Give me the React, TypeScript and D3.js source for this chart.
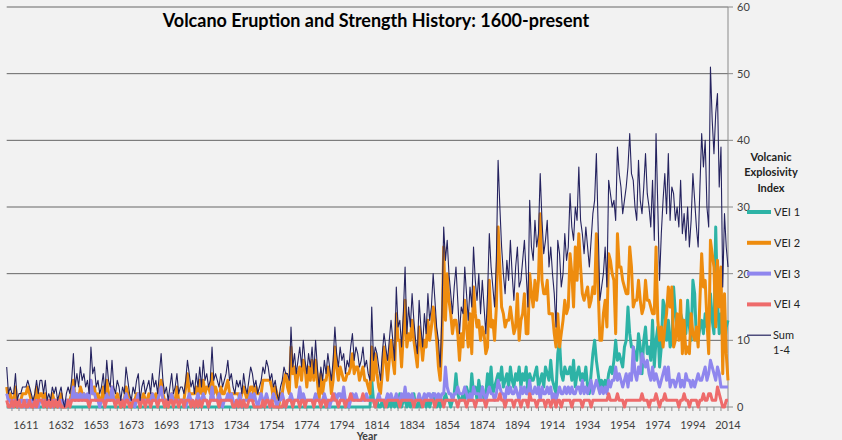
import React from 'react';
import * as d3 from 'd3';

// Categories: the sheet skips a few years before 1754
const missingYears = [1621, 1642, 1724];
const years = d3.range(1600, 2015).filter(y => !missingYears.includes(y));
const tickYears = [1611, 1632, 1653, 1673, 1693, 1713, 1734, 1754, 1774, 1794, 1814,
  1834, 1854, 1874, 1894, 1914, 1934, 1954, 1974, 1994, 2014];
const yTicks = [0, 10, 20, 30, 40, 50, 60];

// eruptions per year, one row = 20 categories
const vei1 = [
  0,0,0,0,0,0,0,0,0,0,0,0,0,0,0,0,0,0,0,0,
  0,0,0,0,0,0,0,0,0,0,0,0,0,0,0,0,0,0,0,0,
  0,0,0,0,0,0,0,0,0,0,0,0,0,0,0,0,0,0,0,0,
  0,0,0,0,0,0,0,0,0,0,0,0,0,0,0,0,0,0,0,0,
  0,0,0,0,0,0,0,0,0,0,0,0,0,0,0,0,0,0,0,0,
  0,0,0,0,0,0,0,0,0,0,0,0,0,0,0,0,0,0,0,0,
  0,0,0,0,0,0,0,0,0,0,0,0,0,0,0,0,0,0,0,0,
  0,0,0,0,0,0,0,0,0,0,0,0,0,0,0,0,0,0,0,0,
  0,0,0,0,0,0,0,0,0,0,0,0,0,0,0,0,0,0,0,0,
  0,0,0,0,0,0,0,0,0,0,0,0,0,0,0,0,0,0,0,0,
  0,0,0,0,0,0,0,0,4,1,0,1,0,0,1,0,1,0,1,0,
  1,0,1,0,2,0,1,1,0,1,0,1,2,0,0,1,0,1,1,0,
  1,0,1,2,1,0,1,0,1,1,2,1,1,0,1,2,5,2,1,1,
  2,1,3,2,1,5,2,3,1,4,2,3,1,2,5,3,6,2,3,4,
  5,4,6,3,4,5,3,6,4,3,5,4,6,3,5,4,6,2,5,4,
  4,5,6,3,4,5,3,6,5,4,7,4,3,2,8,10,5,4,6,5,
  5,6,4,7,3,5,6,4,5,4,6,3,2,5,8,10,7,5,3,4,
  3,4,3,5,6,5,7,10,7,8,7,6,9,10,15,11,9,9,8,7,
  11,9,5,10,12,8,9,7,13,6,10,12,6,9,16,15,10,13,9,10,
  18,14,11,12,14,13,11,11,16,12,10,19,17,10,10,12,13,11,14,12,
  12,17,13,11,27,16,11,14,10,9,12,13,
];

const vei2 = [
  3,1,2,1,1,3,0,1,1,2,2,2,3,2,1,0,1,3,1,2,
  2,1,2,0,1,0,2,1,1,0,1,2,0,0,1,1,1,2,4,1,
  2,1,3,2,2,1,1,1,4,2,3,1,2,1,1,3,1,4,2,1,
  3,1,1,2,1,0,1,1,3,2,1,0,1,1,2,2,0,1,2,1,
  1,2,1,2,1,2,1,2,4,2,1,1,0,1,2,1,1,3,1,1,
  1,1,3,5,2,2,2,2,3,1,4,2,4,2,3,3,2,5,2,3,
  2,1,3,2,2,3,4,2,2,2,2,2,2,1,2,3,2,1,2,3,
  3,1,3,2,2,2,4,4,4,4,4,3,1,3,2,0,2,2,4,5,
  3,2,9,5,6,3,5,6,4,7,6,3,6,4,7,4,7,4,1,5,
  2,4,4,6,5,2,4,9,6,4,6,5,4,4,5,5,6,8,5,6,
  6,4,5,6,4,4,3,2,9,4,8,5,3,2,5,9,7,4,7,10,
  7,5,14,10,10,6,11,16,9,11,10,13,10,8,6,12,10,7,10,9,
  13,10,12,15,13,10,6,4,10,24,13,20,16,14,11,13,13,11,7,11,
  9,16,12,9,14,8,18,14,12,13,10,12,11,8,9,19,12,13,10,15,
  27,21,15,14,12,13,13,15,13,11,12,17,10,13,14,17,11,11,20,17,
  15,19,16,19,29,19,17,17,19,14,14,14,11,9,14,9,11,13,16,14,
  15,23,20,15,24,19,26,21,17,16,17,18,15,16,18,17,26,18,10,10,
  14,16,12,23,22,20,19,11,26,21,21,19,18,17,17,24,21,15,16,16,
  19,16,14,15,19,16,16,15,14,14,24,13,10,12,9,12,14,18,15,18,
  9,10,14,10,16,8,13,8,9,8,14,11,10,12,9,16,23,18,19,13,
  8,25,23,21,12,22,15,21,5,17,8,4,
];

const vei3 = [
  2,1,1,0,1,1,1,0,1,1,0,1,1,0,1,1,0,1,0,1,
  1,1,1,1,0,1,0,1,1,1,0,1,1,0,1,1,1,1,3,1,
  2,1,2,1,2,1,2,1,4,2,2,1,1,0,1,1,1,2,1,1,
  3,1,1,1,1,1,1,1,2,1,1,1,1,0,1,2,1,1,1,1,
  1,1,1,2,1,1,1,2,3,1,1,1,1,1,2,1,1,1,1,1,
  1,1,0,1,2,1,1,0,1,2,1,1,2,1,1,0,1,3,1,1,
  1,2,1,0,1,1,2,1,2,1,0,1,1,2,0,1,1,1,1,2,
  1,2,1,0,1,2,1,1,2,1,0,1,2,1,0,1,1,2,1,0,
  1,1,2,1,1,1,1,3,1,2,1,1,1,1,1,1,2,1,1,1,
  1,2,1,1,0,1,1,2,1,2,2,1,3,1,1,0,1,2,1,2,
  1,1,1,1,1,2,1,1,1,1,1,1,2,1,1,1,1,2,1,2,
  1,1,2,1,1,2,1,3,1,2,1,2,1,1,1,2,1,1,2,1,
  2,2,1,2,2,1,2,1,2,2,6,3,2,2,1,2,2,3,2,2,
  2,3,2,1,2,1,3,2,2,2,1,3,2,1,2,3,2,2,1,2,
  4,3,2,2,1,3,2,3,2,2,3,2,1,3,2,3,2,2,4,2,
  2,3,2,3,1,3,2,2,3,2,3,1,2,1,2,3,2,2,3,2,
  3,2,3,2,2,3,3,2,4,2,3,2,3,4,2,3,4,3,2,3,
  2,3,2,4,3,4,4,6,4,5,4,3,4,5,3,5,4,9,5,4,
  6,5,8,7,6,7,5,4,6,4,5,4,3,4,5,6,4,6,3,4,
  4,3,4,5,3,4,3,5,4,4,3,4,3,4,5,4,4,5,6,4,
  5,7,6,5,4,6,5,3,3,3,3,3,
];

const vei4 = [
  1,0,0,1,0,1,0,1,0,0,1,0,0,1,0,0,1,0,1,1,
  1,0,1,0,1,0,1,0,1,0,1,0,0,0,0,1,0,1,1,1,
  1,1,1,1,1,1,1,0,1,1,1,1,1,1,1,1,0,1,1,1,
  1,1,0,1,1,0,1,0,1,1,0,0,1,1,1,1,0,1,1,0,
  1,1,0,1,1,1,0,1,1,1,0,1,0,1,1,0,1,1,0,1,
  1,0,1,1,1,0,1,0,1,0,1,0,1,1,1,0,1,1,1,1,
  1,0,1,1,1,1,1,1,1,0,0,1,0,1,0,1,0,0,1,1,
  1,0,0,0,0,0,1,0,1,1,0,1,0,0,0,0,0,0,1,0,
  1,1,1,0,1,1,1,0,1,1,0,1,1,1,1,0,1,1,1,0,
  1,1,0,1,1,1,2,1,1,0,1,1,1,0,1,1,2,1,1,1,
  1,1,1,2,1,1,1,1,1,1,0,1,1,1,1,1,0,1,1,1,
  1,1,1,1,0,1,1,1,1,1,1,1,0,1,1,1,1,0,1,1,
  1,1,1,1,0,1,1,1,1,0,1,1,1,1,1,1,1,0,1,1,
  1,1,0,1,1,1,1,0,1,1,1,1,1,0,1,1,1,1,1,1,
  1,2,1,1,0,1,1,1,1,0,1,1,1,0,1,1,1,0,2,1,
  1,1,0,1,1,1,1,0,1,1,0,1,1,0,1,1,0,1,1,1,
  1,1,0,1,1,1,1,1,0,1,1,1,1,0,1,1,1,1,1,1,
  1,1,1,2,1,1,1,1,2,1,1,1,0,1,1,1,1,1,1,1,
  1,1,2,1,1,1,0,1,1,1,2,1,0,1,1,2,1,1,1,1,
  1,1,1,0,1,1,2,1,1,0,1,1,1,1,0,1,1,2,1,1,
  2,2,1,1,1,3,2,1,0,0,1,1,
];

// Sum 1-4 is the total of the four classes
const sum14 = vei1.map((v, i) => v + vei2[i] + vei3[i] + vei4[i]);

const series = [
  { name: 'VEI 1', values: vei1, color: '#2db3a6', width: 3 },
  { name: 'VEI 2', values: vei2, color: '#ee8c0e', width: 3 },
  { name: 'VEI 3', values: vei3, color: '#8f86ee', width: 3 },
  { name: 'VEI 4', values: vei4, color: '#ee6b6b', width: 3 },
  { name: 'Sum', values: sum14, color: '#25235f', width: 1.1 },
];

const W = 842;
const H = 440;
const font = "Lato, 'Open Sans', sans-serif";

const App: React.FC = () => {
  const x = d3.scaleLinear().domain([0, years.length - 1]).range([6.7, 728]);
  const y = d3.scaleLinear().domain([0, 60]).range([407, 7]);

  const line = d3
    .line<number>()
    .x((_, i) => x(i))
    .y(d => y(d));

  const xTicks = d3.range(3, years.length, 4);
  const [x0, x1] = x.range();

  return (
    <svg
      width={W}
      height={H}
      style={{ position: 'absolute', left: 0, top: 0, background: '#f2f2f2' }}
      fontFamily={font}
    >
      {/* gridlines */}
      {yTicks.filter(t => t > 0).map(t => (
        <line key={t} x1={x0} x2={x1} y1={y(t)} y2={y(t)} stroke="#666" strokeWidth={1} />
      ))}

      {/* category axis */}
      <line x1={x0} x2={x1} y1={y(0)} y2={y(0)} stroke="#8a8a8a" />
      {xTicks.map(i => (
        <line key={i} x1={x(i)} x2={x(i)} y1={y(0)} y2={y(0) + 4} stroke="#8a8a8a" />
      ))}
      {tickYears.map(yr => (
        <text key={yr} x={x(years.indexOf(yr))} y={429} textAnchor="middle" fontSize={11} fill="#404040">
          {yr}
        </text>
      ))}
      <text x={367} y={439.5} textAnchor="middle" fontSize={10.5} fontWeight="bold" fill="#404040">
        Year
      </text>

      {/* value axis on the right */}
      <line x1={x1} x2={x1} y1={y(60)} y2={y(0)} stroke="#8a8a8a" />
      {yTicks.map(t => (
        <g key={t}>
          <line x1={x1} x2={x1 + 5} y1={y(t)} y2={y(t)} stroke="#8a8a8a" />
          <text x={x1 + 9} y={y(t) + 4} fontSize={11} fill="#404040">{t}</text>
        </g>
      ))}

      {/* series */}
      {series.map(s => (
        <path
          key={s.name}
          d={line(s.values) ?? ''}
          fill="none"
          stroke={s.color}
          strokeWidth={s.width}
          strokeLinejoin="round"
        />
      ))}

      {/* title */}
      <text x={376} y={27} textAnchor="middle" fontSize={18} fontWeight="bold" fill="#000">
        Volcano Eruption and Strength History: 1600-present
      </text>

      {/* legend */}
      <g fontSize={11} fill="#222">
        {['Volcanic', 'Explosivity', 'Index'].map((t, i) => (
          <text key={t} x={771} y={161 + i * 15.3} textAnchor="middle" fontWeight="bold">{t}</text>
        ))}
        {series.map((s, i) => {
          const ly = 212 + i * 30.8;
          return (
            <g key={s.name}>
              <line x1={747} x2={771} y1={ly} y2={ly} stroke={s.color} strokeWidth={s.width === 3 ? 4 : 1.2} />
              {s.name === 'Sum' ? (
                <>
                  <text x={773} y={ly + 4}>Sum</text>
                  <text x={773} y={ly + 19}>1-4</text>
                </>
              ) : (
                <text x={774} y={ly + 4}>{s.name}</text>
              )}
            </g>
          );
        })}
      </g>
    </svg>
  );
};

export default App;
